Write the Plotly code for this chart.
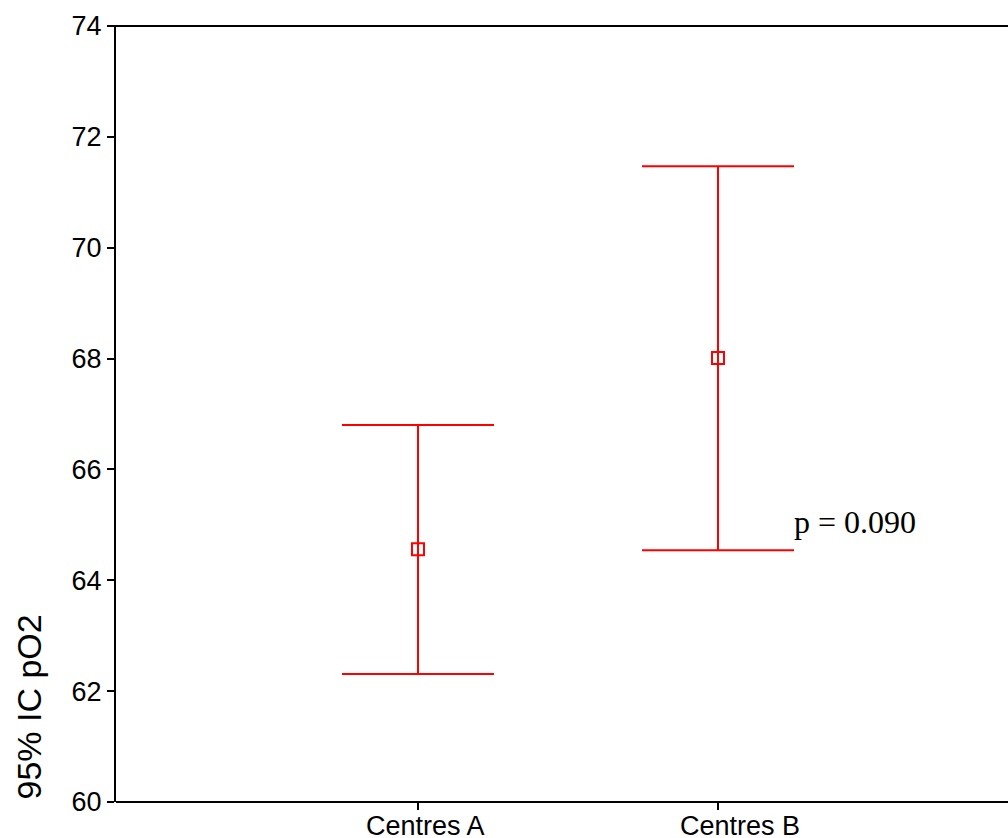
import plotly.graph_objects as go

categories = ["Centres A", "Centres B"]
means = [64.56, 68.01]
upper = [66.80, 71.47]
lower = [62.31, 64.54]
y_ticks = [60, 62, 64, 66, 68, 70, 72, 74]

err_plus = [u - m for u, m in zip(upper, means)]
err_minus = [m - l for m, l in zip(means, lower)]

W, H = 1008, 838
ml, mr, mt, mb = 116, 0, 26, 36
pw = W - ml - mr
px_per_cat = 300.0
x0 = -(418 - ml) / px_per_cat
x1 = x0 + pw / px_per_cat

fig = go.Figure()
fig.add_trace(go.Scatter(
    x=categories, y=means, mode="markers",
    marker=dict(symbol="square-open", size=12, color="#ff0000", line=dict(width=2, color="#ff0000")),
    error_y=dict(type="data", symmetric=False, array=err_plus, arrayminus=err_minus,
                 color="#ff0000", thickness=2, width=76),
    showlegend=False,
    cliponaxis=False,
))

sans = "Arial, Liberation Sans, sans-serif"

# category labels drawn as annotations (the original labels sit slightly right of their ticks)
label_shift = [7, 22]
annotations = [
    dict(text=c, xref="x", yref="paper", x=c, y=0, xanchor="center", yanchor="top",
         xshift=s, yshift=-7, showarrow=False, font=dict(family=sans, size=27, color="black"))
    for c, s in zip(categories, label_shift)
]
annotations += [
    dict(text="95% IC pO2", textangle=-90, xref="paper", yref="paper",
         x=(28 - ml) / pw, y=0, xanchor="center", yanchor="bottom",
         showarrow=False, font=dict(family=sans, size=34, color="black")),
    dict(text="p = 0.090", xref="paper", yref="y",
         x=(792 - ml) / pw, y=65.05, xanchor="left", yanchor="middle",
         showarrow=False,
         font=dict(family="Times New Roman, Liberation Serif, serif", size=32, color="black")),
]

fig.update_layout(
    width=W, height=H,
    margin=dict(l=ml, r=mr, t=mt, b=mb, pad=0, autoexpand=False),
    paper_bgcolor="white", plot_bgcolor="rgba(0,0,0,0)",
    font=dict(family=sans, size=27, color="black"),
    xaxis=dict(type="category", range=[x0, x1], showline=False, showticklabels=False,
               mirror=False, automargin=False, ticks="outside", ticklen=7, tickwidth=2, tickcolor="black",
               showgrid=False, zeroline=False),
    yaxis=dict(range=[60, 74], tickvals=y_ticks, showline=True, linecolor="black", linewidth=2,
               mirror=False, automargin=False, ticks="outside", ticklen=7, tickwidth=2, tickcolor="black",
               showgrid=False, zeroline=False, tickfont=dict(family=sans, size=27)),
    shapes=[
        dict(type="line", xref="paper", yref="paper", x0=-0.01, x1=1.05, y0=1, y1=1,
             line=dict(color="black", width=2)),
        dict(type="line", xref="paper", yref="paper", x0=0, x1=1.05, y0=0, y1=0,
             line=dict(color="black", width=2)),
    ],
    annotations=annotations,
)

fig.write_html("out.html", config={"displayModeBar": False})
